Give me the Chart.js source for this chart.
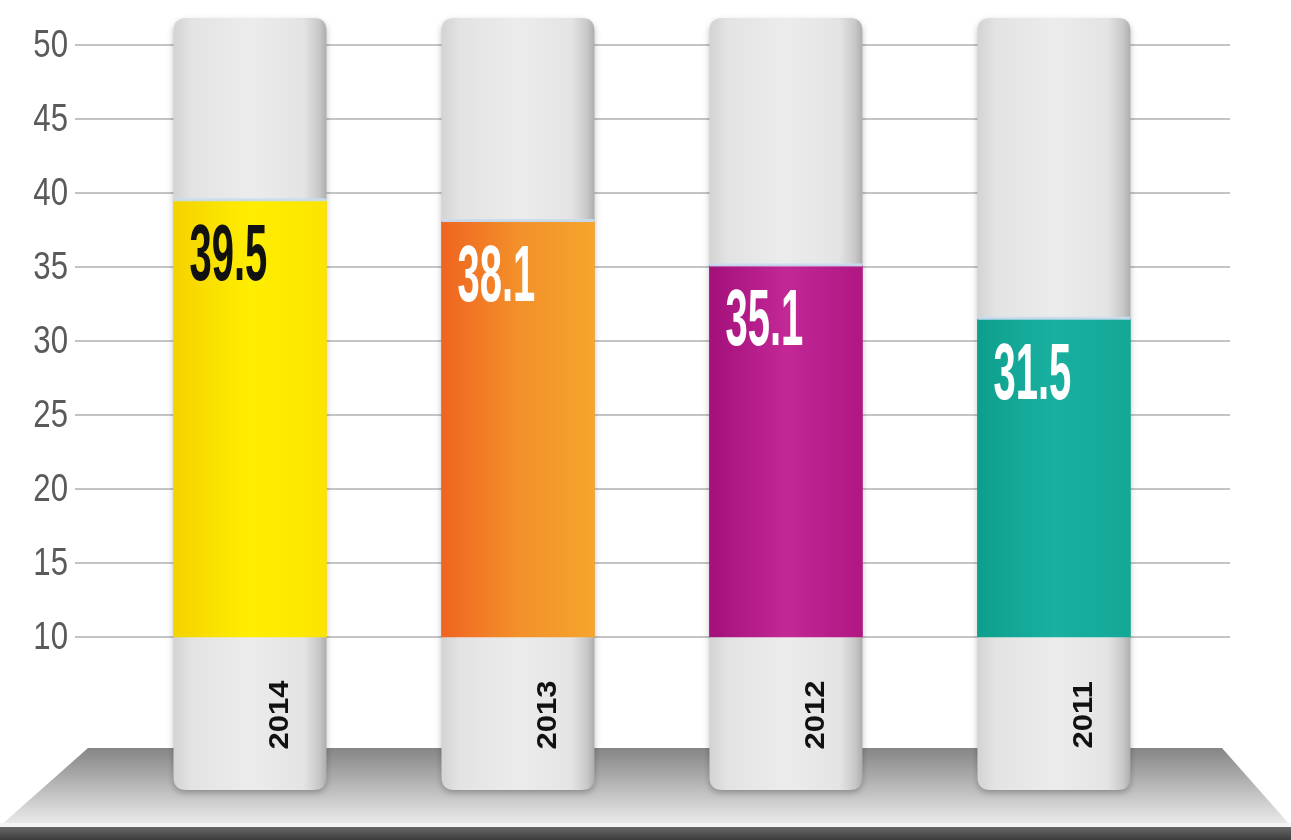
<!DOCTYPE html>
<html>
<head>
<meta charset="utf-8">
<script src="https://cdn.jsdelivr.net/npm/chart.js@4/dist/chart.umd.min.js"></script>
<style>
  html, body { margin: 0; padding: 0; background: #fff; }
  #wrap { width: 1291px; height: 840px; position: relative; }
</style>
</head>
<body>
<div id="wrap"><canvas id="chart"></canvas></div>
<script>
// data
const years = ['2014', '2013', '2012', '2011'];
const values = [39.5, 38.1, 35.1, 31.5];
const baseValue = 10;
const yTicks = [10, 15, 20, 25, 30, 35, 40, 45, 50];

// colours per bar: [left, middle, right]
const barColors = [
  ['#f4d200', '#ffee00', '#fbe400'],
  ['#ef6420', '#f3902a', '#f5a52c'],
  ['#a3107a', '#c22896', '#b01782'],
  ['#0d9f8e', '#19b09f', '#13a796']
];
const labelColors = ['#111', '#fff', '#fff', '#fff'];

function barGradient(ctx) {
  const chart = ctx.chart;
  const i = ctx.dataIndex;
  const c = barColors[i];
  if (!chart.chartArea) return c[1];
  const cx = chart.scales.x.getPixelForValue(i);
  const g = chart.ctx.createLinearGradient(cx - 77, 0, cx + 77, 0);
  g.addColorStop(0, c[0]);
  g.addColorStop(0.5, c[1]);
  g.addColorStop(1, c[2]);
  return g;
}

function roundRect(ctx, x, y, w, h, r) {
  ctx.beginPath();
  ctx.moveTo(x + r, y);
  ctx.lineTo(x + w - r, y);
  ctx.quadraticCurveTo(x + w, y, x + w, y + r);
  ctx.lineTo(x + w, y + h - r);
  ctx.quadraticCurveTo(x + w, y + h, x + w - r, y + h);
  ctx.lineTo(x + r, y + h);
  ctx.quadraticCurveTo(x, y + h, x, y + h - r);
  ctx.lineTo(x, y + r);
  ctx.quadraticCurveTo(x, y, x + r, y);
  ctx.closePath();
}

// platform + grey tubes behind the bars, labels on top
const tubes = {
  id: 'tubes',
  beforeDatasetsDraw(chart) {
    const { ctx, chartArea, width, height } = chart;
    ctx.save();
    // platform
    const pTop = chartArea.bottom - 42;
    const pBot = height - 14;
    let g = ctx.createLinearGradient(0, pTop, 0, pBot);
    g.addColorStop(0, '#858585');
    g.addColorStop(0.35, '#a9a9a9');
    g.addColorStop(0.8, '#d9d9d9');
    g.addColorStop(1, '#ececec');
    ctx.fillStyle = g;
    ctx.beginPath();
    ctx.moveTo(chartArea.left + 13, pTop);
    ctx.lineTo(chartArea.right - 8, pTop);
    ctx.lineTo(width, pBot);
    ctx.lineTo(0, pBot);
    ctx.closePath();
    ctx.fill();
    ctx.fillStyle = '#f4f4f4';
    ctx.fillRect(0, pBot - 3, width, 4);
    g = ctx.createLinearGradient(0, pBot, 0, height);
    g.addColorStop(0, '#6a6a6a');
    g.addColorStop(1, '#3c3c3c');
    ctx.fillStyle = g;
    ctx.fillRect(0, pBot + 1, width, height - pBot);

    // tubes
    const meta = chart.getDatasetMeta(0);
    meta.data.forEach((bar) => {
      const w = bar.width;
      const x = bar.x - w / 2;
      const tg = ctx.createLinearGradient(x, 0, x + w, 0);
      tg.addColorStop(0, '#d3d3d3');
      tg.addColorStop(0.12, '#e3e3e3');
      tg.addColorStop(0.5, '#ececec');
      tg.addColorStop(0.85, '#e4e4e4');
      tg.addColorStop(0.95, '#c9c9c9');
      tg.addColorStop(1, '#adadad');
      ctx.shadowColor = 'rgba(0,0,0,0.25)';
      ctx.shadowBlur = 6;
      ctx.shadowOffsetY = 3;
      ctx.fillStyle = tg;
      roundRect(ctx, x, chartArea.top, w, chartArea.bottom - chartArea.top, 13);
      ctx.fill();
    });
    ctx.restore();
  },
  afterDatasetsDraw(chart) {
    const { ctx } = chart;
    const yScale = chart.scales.y;
    const meta = chart.getDatasetMeta(0);
    const baseY = yScale.getPixelForValue(baseValue);
    ctx.save();
    // y tick labels (condensed)
    ctx.font = '39px "Liberation Sans", Arial, sans-serif';
    ctx.fillStyle = '#5a5a5a';
    ctx.textAlign = 'right';
    ctx.textBaseline = 'middle';
    yTicks.forEach((v) => {
      ctx.save();
      ctx.translate(chart.chartArea.left - 7, yScale.getPixelForValue(v) + 1);
      ctx.scale(0.8, 1);
      ctx.fillText(String(v), 0, 0);
      ctx.restore();
    });
    meta.data.forEach((bar, i) => {
      const left = bar.x - bar.width / 2;
      // surface line
      ctx.fillStyle = 'rgba(200,220,240,0.9)';
      ctx.fillRect(left, bar.y - 2, bar.width, 3);
      // value label, condensed
      ctx.save();
      ctx.translate(left + 16, bar.y + 80);
      ctx.scale(0.5, 1);
      ctx.font = 'bold 80px "Liberation Sans", Arial, sans-serif';
      ctx.fillStyle = labelColors[i];
      ctx.textAlign = 'left';
      ctx.textBaseline = 'alphabetic';
      ctx.fillText(String(values[i]), 0, 0);
      ctx.restore();
      // year label, rotated
      ctx.save();
      ctx.translate(bar.x + 30, baseY + 78);
      ctx.rotate(-Math.PI / 2);
      ctx.scale(1, 0.9);
      ctx.font = 'bold 31px "Liberation Sans", Arial, sans-serif';
      ctx.fillStyle = '#111';
      ctx.textAlign = 'center';
      ctx.textBaseline = 'middle';
      ctx.fillText(years[i], 0, 0);
      ctx.restore();
    });
    ctx.restore();
  }
};

new Chart(document.getElementById('chart'), {
  type: 'bar',
  data: {
    datasets: [{
      data: values.map((v, i) => ({ x: i, y: [baseValue, v] })),
      backgroundColor: barGradient,
      borderWidth: 0,
      barThickness: 153
    }]
  },
  options: {
    responsive: true,
    maintainAspectRatio: false,
    animation: false,
    layout: { padding: { top: 18, right: 61, bottom: 50, left: 75 } },
    plugins: { legend: { display: false }, tooltip: { enabled: false } },
    scales: {
      x: {
        type: 'linear',
        offset: false,
        min: -0.653,
        max: 3.657,
        display: false
      },
      y: {
        min: -0.34,
        max: 51.82,
        afterBuildTicks: (scale) => { scale.ticks = yTicks.map(v => ({ value: v })); },
        border: { display: false },
        grid: { color: '#c4c4c4', lineWidth: 2, drawTicks: false },
        ticks: { display: false }
      }
    }
  },
  plugins: [tubes]
});
</script>
</body>
</html>
